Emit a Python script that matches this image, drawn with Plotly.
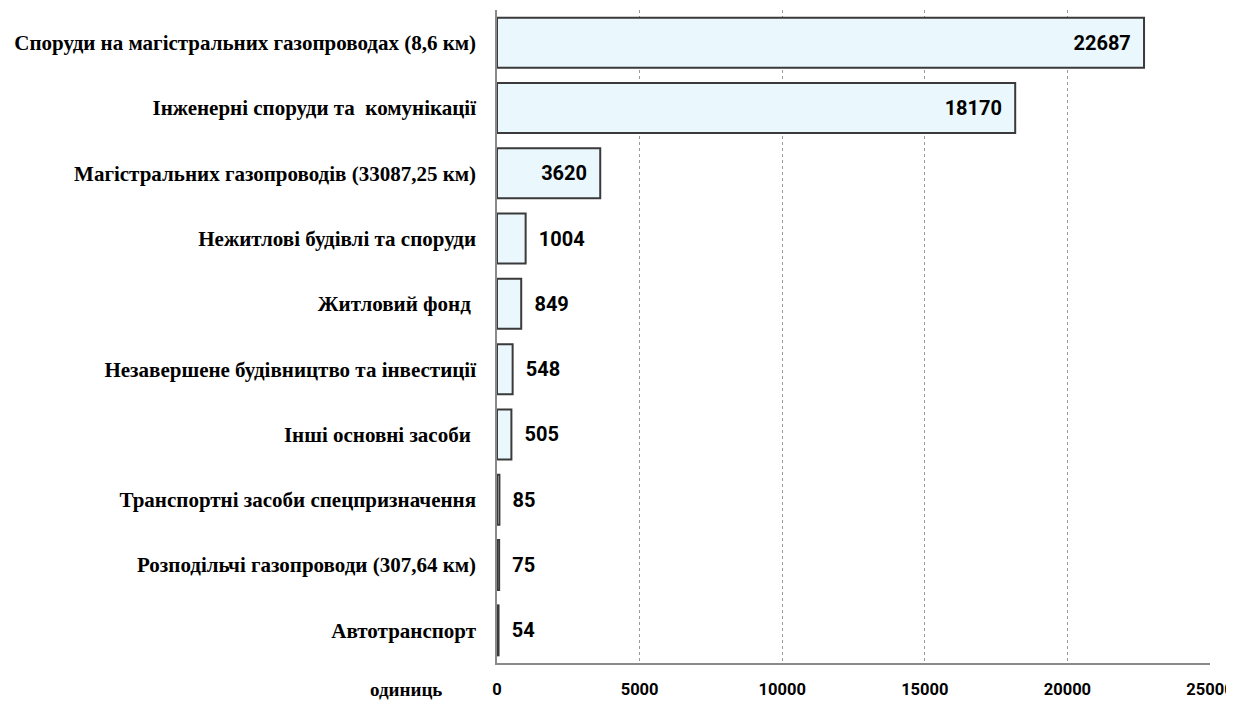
import plotly.graph_objects as go

categories = [
    "Споруди на магістральних газопроводах (8,6 км)",
    "Інженерні споруди та  комунікації",
    "Магістральних газопроводів (33087,25 км)",
    "Нежитлові будівлі та споруди",
    "Житловий фонд ",
    "Незавершене будівництво та інвестиції",
    "Інші основні засоби ",
    "Транспортні засоби спецпризначення",
    "Розподільчі газопроводи (307,64 км)",
    "Автотранспорт",
]
values = [22687, 18170, 3620, 1004, 849, 548, 505, 85, 75, 54]
tick_vals = [0, 5000, 10000, 15000, 20000, 25000]
unit_label = "одиниць"

inside_limit = 3000
text_pos = ["inside" if v > inside_limit else "outside" for v in values]
texts = [str(v) + "\u2002" if v > inside_limit else "\u2002" + str(v) for v in values]

num_font = "Roboto, Liberation Sans, Arial"
serif_font = "Liberation Serif, Times New Roman, serif"

fig = go.Figure(
    go.Bar(
        x=values,
        y=categories,
        orientation="h",
        marker=dict(color="#EAF7FC", line=dict(color="#3a3a3a", width=2)),
        text=texts,
        textposition=text_pos,
        insidetextanchor="end",
        textfont=dict(family=num_font, size=20, color="black", weight="bold"),
        cliponaxis=False,
    )
)

# page body has an 8px default margin: figure is sized/offset to compensate
fig.update_layout(
    width=1226,
    height=696,
    margin=dict(l=489, r=24, t=2, b=41, autoexpand=False),
    plot_bgcolor="white",
    paper_bgcolor="white",
    bargap=0.235,
    showlegend=False,
)

fig.update_xaxes(
    range=[0, 25000],
    tickvals=tick_vals,
    ticktext=[str(t) for t in tick_vals],
    showgrid=True,
    gridcolor="#9a9a9a",
    griddash="dot",
    gridwidth=1,
    zeroline=False,
    showline=True,
    linecolor="#8a8a8a",
    linewidth=1.5,
    ticks="outside",
    ticklen=10,
    tickcolor="rgba(0,0,0,0)",
    ticklabeloverflow="allow",
    automargin=False,
    tickfont=dict(family=num_font, size=16.5, color="black", weight="bold"),
)

fig.update_yaxes(
    autorange="reversed",
    showline=True,
    linecolor="#8a8a8a",
    linewidth=1.5,
    showgrid=False,
    ticks="outside",
    ticklen=15,
    tickcolor="rgba(0,0,0,0)",
    automargin=False,
    tickfont=dict(family=serif_font, size=21, color="black", weight="bold"),
)

fig.add_annotation(
    text=unit_label,
    xref="paper",
    yref="paper",
    x=-0.074,
    y=-0.041,
    xanchor="right",
    yanchor="middle",
    showarrow=False,
    font=dict(family=serif_font, size=19, color="black", weight="bold"),
)

fig.write_html("out.html")
